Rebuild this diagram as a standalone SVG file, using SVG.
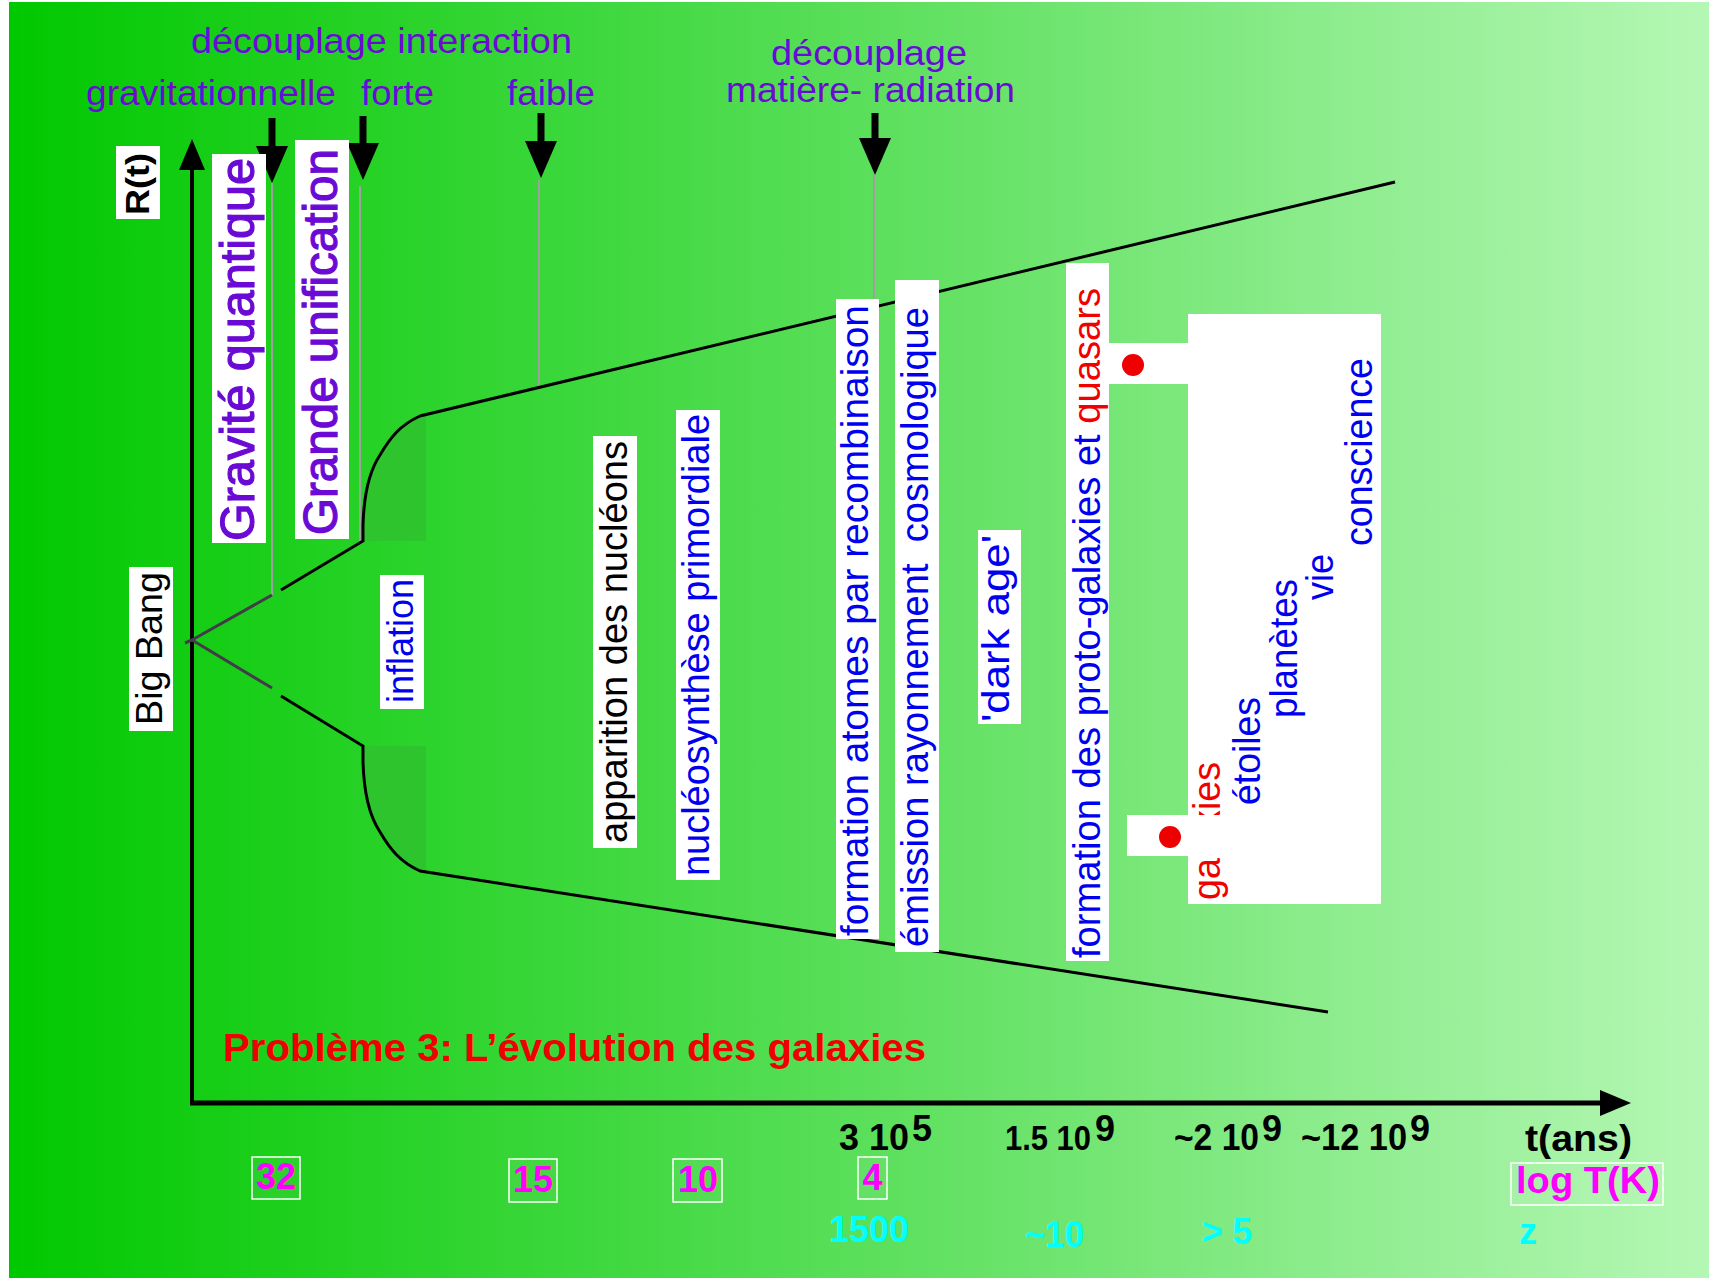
<svg xmlns="http://www.w3.org/2000/svg" width="1709" height="1278" viewBox="0 0 1709 1278">
<style>
text{font-family:"Liberation Sans",Arial,Helvetica,sans-serif}
.top{font-size:35px;fill:#6A0AD6}
.big{font-size:48px;fill:#6A0AD4;stroke:#6A0AD4;stroke-width:1.2}
.v{font-size:38px}
.blue{fill:#0000F0}
.red{fill:#F00000}
.blk{fill:#000}
.bold{font-weight:bold}
.num{font-size:36px;font-weight:bold}
.mag{fill:#FF00FF}
.cyan{fill:#00FFFF}
.box{fill:#FFFFFF}
.nbox{fill:#FFFFFF;fill-opacity:0.06;stroke:#FFFFFF;stroke-width:1.5}
.gray{stroke:#A0A0A0;stroke-width:2;fill:none}
.fun{stroke:#000;stroke-width:3;fill:none}
.dk{stroke:#433A4A;stroke-width:3;fill:none}
.stem{stroke:#000;stroke-width:7}
.shade{fill:#2EC42E}
.dot{fill:#EE0000}
</style>
<defs>
<linearGradient id="bg" x1="0" y1="0" x2="1" y2="0">
<stop offset="0" stop-color="#00C800"/>
<stop offset="0.5" stop-color="#5ADF5A"/>
<stop offset="1" stop-color="#B5F7B5"/>
</linearGradient>
<marker id="ah" markerUnits="userSpaceOnUse" markerWidth="38" markerHeight="34" viewBox="0 -17 38 34" refX="0" refY="0" orient="auto">
<path d="M0,-16 L37,0 L0,16 Z" fill="#000"/>
</marker>
<marker id="ax" markerUnits="userSpaceOnUse" markerWidth="32" markerHeight="28" viewBox="0 -14 32 28" refX="0" refY="0" orient="auto">
<path d="M0,-13 L31,0 L0,13 Z" fill="#000"/>
</marker>
</defs>
<rect x="0" y="0" width="1709" height="1278" fill="#FFFFFF"/>
<rect x="9" y="2" width="1700" height="1276" fill="url(#bg)"/>

<g id="shading">
<path class="shade" d="M363,541 L363,525 C364,490 370,470 380,455 C390,438 400,425 420,416 L426,416 L426,541 Z"/>
<path class="shade" d="M363,746 L363,762 C364,797 370,817 380,832 C390,849 400,862 420,871 L426,871 L426,746 Z"/>
</g>

<g id="connectors">
<line x1="192" y1="1104" x2="192" y2="170" stroke="#000" stroke-width="4" marker-end="url(#ax)"/>
<line x1="190" y1="1103" x2="1600" y2="1103" stroke="#000" stroke-width="5" marker-end="url(#ax)"/>
<line class="stem" x1="272" y1="118" x2="272" y2="146" marker-end="url(#ah)"/>
<line class="stem" x1="363" y1="116" x2="363" y2="143" marker-end="url(#ah)"/>
<line class="stem" x1="541" y1="113" x2="541" y2="141" marker-end="url(#ah)"/>
<line class="stem" x1="875" y1="113" x2="875" y2="138" marker-end="url(#ah)"/>
<line class="gray" x1="272" y1="183" x2="272" y2="595"/>
<line class="gray" x1="360" y1="186" x2="360" y2="541"/>
<line class="gray" x1="539" y1="180" x2="539" y2="389"/>
<line class="gray" x1="874" y1="174" x2="874" y2="299"/>
<path class="dk" d="M185,643 L192,640 L272,595"/>
<path class="dk" d="M192,640 L272,688"/>
<path class="fun" d="M281,590 L363,541 L363,525 C364,490 370,470 380,455 C390,438 400,425 420,416 L1395,182"/>
<path class="fun" d="M281,696 L363,746 L363,762 C364,797 370,817 380,832 C390,849 400,862 420,871 L1328,1012"/>
</g>

<g id="top-labels">
<text class="top" x="191" y="53" textLength="381" lengthAdjust="spacingAndGlyphs">découplage interaction</text>
<text class="top" x="86" y="105" textLength="250" lengthAdjust="spacingAndGlyphs">gravitationnelle</text>
<text class="top" x="361" y="105" textLength="73" lengthAdjust="spacingAndGlyphs">forte</text>
<text class="top" x="507" y="105" textLength="88" lengthAdjust="spacingAndGlyphs">faible</text>
<text class="top" x="771" y="65" textLength="196" lengthAdjust="spacingAndGlyphs">découplage</text>
<text class="top" x="726" y="102" textLength="289" lengthAdjust="spacingAndGlyphs">matière- radiation</text>
</g>

<g id="node-rt">
<rect class="box" x="116" y="146" width="44" height="73"/>
<text class="blk bold" font-size="34" transform="translate(149,215) rotate(-90)" textLength="62" lengthAdjust="spacingAndGlyphs">R(t)</text>
</g>

<g id="node-bigbang">
<rect class="box" x="129" y="567" width="44" height="164"/>
<text class="blk" font-size="37" transform="translate(162,725) rotate(-90)" textLength="153" lengthAdjust="spacingAndGlyphs">Big Bang</text>
</g>

<g id="node-gravite">
<rect class="box" x="212" y="154" width="54" height="389"/>
<text class="big" transform="translate(254,541) rotate(-90)" textLength="383" lengthAdjust="spacingAndGlyphs">Gravité quantique</text>
</g>

<g id="node-grande">
<rect class="box" x="295" y="140" width="54" height="399"/>
<text class="big" transform="translate(337,535) rotate(-90)" textLength="386" lengthAdjust="spacingAndGlyphs">Grande unification</text>
</g>

<g id="node-inflation">
<rect class="box" x="380" y="575" width="44" height="134"/>
<text class="blue" font-size="36" transform="translate(413,703) rotate(-90)" textLength="124" lengthAdjust="spacingAndGlyphs">inflation</text>
</g>

<g id="node-apparition">
<rect class="box" x="593" y="436" width="44" height="412"/>
<text class="v blk" transform="translate(627,843) rotate(-90)" textLength="402" lengthAdjust="spacingAndGlyphs">apparition des nucléons</text>
</g>

<g id="node-nucleosynthese">
<rect class="box" x="676" y="410" width="44" height="470"/>
<text class="v blue" transform="translate(709,876) rotate(-90)" textLength="462" lengthAdjust="spacingAndGlyphs">nucléosynthèse primordiale</text>
</g>

<g id="node-recombinaison">
<rect class="box" x="836" y="299" width="43" height="640"/>
<text class="v blue" transform="translate(868,936) rotate(-90)" textLength="631" lengthAdjust="spacingAndGlyphs">formation atomes par recombinaison</text>
</g>

<g id="node-emission">
<rect class="box" x="895" y="280" width="44" height="672"/>
<text class="v blue" xml:space="preserve" transform="translate(928,947) rotate(-90)" textLength="640" lengthAdjust="spacingAndGlyphs">émission rayonnement  cosmologique</text>
</g>

<g id="node-darkage">
<rect class="box" x="978" y="530" width="43" height="194"/>
<text class="v blue" transform="translate(1009,722) rotate(-90)" textLength="187" lengthAdjust="spacingAndGlyphs">'dark age'</text>
</g>

<g id="node-protogalaxies">
<rect class="box" x="1066" y="263" width="43" height="698"/>
<text class="v blue" xml:space="preserve" transform="translate(1100,958) rotate(-90)" textLength="670" lengthAdjust="spacingAndGlyphs">formation des proto-galaxies et <tspan class="red">quasars</tspan></text>
</g>

<g id="node-evolution">
<rect class="box" x="1188" y="314" width="193" height="590"/>
<rect class="box" x="1108" y="343" width="81" height="41"/>
<circle class="dot" cx="1133" cy="365" r="11"/>
<text class="v red" transform="translate(1220,900) rotate(-90)" textLength="138" lengthAdjust="spacingAndGlyphs">galaxies</text>
<rect class="box" x="1127" y="815" width="104" height="41"/>
<circle class="dot" cx="1170" cy="837" r="11"/>
<text class="v blue" transform="translate(1260,805) rotate(-90)" textLength="108" lengthAdjust="spacingAndGlyphs">étoiles</text>
<text class="v blue" transform="translate(1297,718) rotate(-90)" textLength="139" lengthAdjust="spacingAndGlyphs">planètes</text>
<text class="v blue" transform="translate(1333,600) rotate(-90)" textLength="46" lengthAdjust="spacingAndGlyphs">vie</text>
<text class="v blue" transform="translate(1372,546) rotate(-90)" textLength="188" lengthAdjust="spacingAndGlyphs">conscience</text>
</g>

<g id="title">
<text class="red bold" font-size="38" x="223" y="1061" textLength="703" lengthAdjust="spacingAndGlyphs">Problème 3: L’évolution des galaxies</text>
</g>

<g id="axis-labels">
<text class="num blk" x="839" y="1150" textLength="70" lengthAdjust="spacingAndGlyphs">3 10</text>
<text class="num blk" x="912" y="1141">5</text>
<text class="num blk" transform="translate(1005,1150) scale(0.86,1)">1.5 10</text>
<text class="num blk" x="1095" y="1141">9</text>
<text class="num blk" x="1174" y="1150" textLength="85" lengthAdjust="spacingAndGlyphs">~2 10</text>
<text class="num blk" x="1262" y="1141">9</text>
<text class="num blk" x="1301" y="1150" textLength="106" lengthAdjust="spacingAndGlyphs">~12 10</text>
<text class="num blk" x="1410" y="1141">9</text>
<text class="num blk" x="1525" y="1151" textLength="107" lengthAdjust="spacingAndGlyphs">t(ans)</text>
</g>

<g id="temperature-labels">
<rect class="nbox" x="252" y="1157" width="48" height="42"/>
<text class="num mag" x="276" y="1189" text-anchor="middle">32</text>
<rect class="nbox" x="509" y="1159" width="48" height="43"/>
<text class="num mag" x="533" y="1192" text-anchor="middle">15</text>
<rect class="nbox" x="673" y="1159" width="49" height="43"/>
<text class="num mag" x="698" y="1192" text-anchor="middle">10</text>
<rect class="nbox" x="858" y="1157" width="29" height="42"/>
<text class="num mag" x="872.5" y="1190" text-anchor="middle">4</text>
<rect class="nbox" x="1511" y="1163" width="152" height="42"/>
<text class="num mag" font-size="38" x="1516" y="1193" textLength="144" lengthAdjust="spacingAndGlyphs">log T(K)</text>
</g>

<g id="redshift-labels">
<text class="num cyan" x="829" y="1242" textLength="80" lengthAdjust="spacingAndGlyphs">1500</text>
<text class="num cyan" x="1025" y="1247" textLength="59" lengthAdjust="spacingAndGlyphs">~10</text>
<text class="num cyan" x="1202" y="1244" textLength="50" lengthAdjust="spacingAndGlyphs">&gt; 5</text>
<text class="num cyan" x="1519" y="1244">z</text>
</g>
</svg>
